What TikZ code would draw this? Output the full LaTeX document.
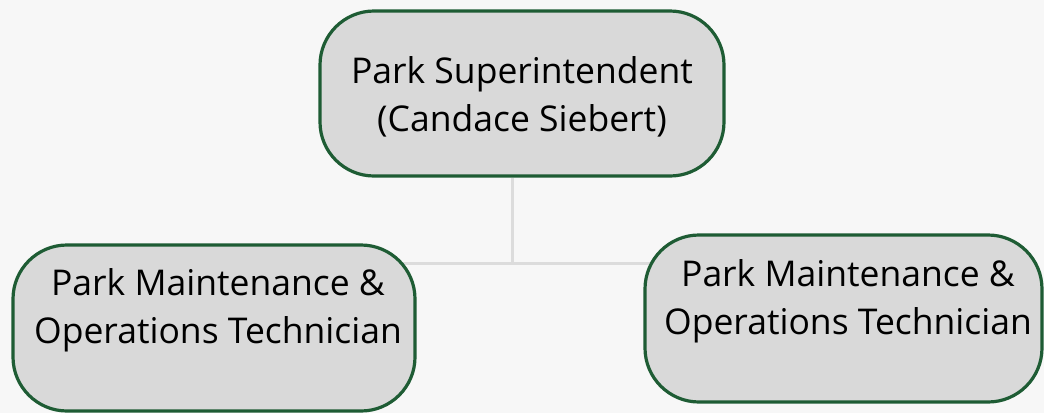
\documentclass[tikz,border=0pt]{standalone}
\usepackage{fontspec}
\setmainfont{Open Sans}
\definecolor{bgc}{HTML}{F7F7F7}
\definecolor{boxfill}{HTML}{D9D9D9}
\definecolor{boxline}{HTML}{1E5C34}
\definecolor{linec}{HTML}{DCDCDC}
\pgfdeclarelayer{bg}
\pgfsetlayers{bg,main}
\begin{document}
\begin{tikzpicture}[x=1pt,y=-1pt,
  box/.style={draw=boxline,fill=boxfill,line width=3.2pt,rounded corners=54pt,inner sep=0pt},
  lbl/.style={font=\fontsize{35.5}{48}\selectfont,align=center,text=black,inner sep=0pt,anchor=north},
  conn/.style={draw=linec,line width=3pt}]
\useasboundingbox (0,0) rectangle (1044,413);
\node[box,minimum width=404pt,minimum height=165pt] (top) at (522,93.5) {};
\node[box,minimum width=402pt,minimum height=166pt] (left) at (214,328) {};
\node[box,minimum width=397pt,minimum height=167pt] (right) at (843.5,318.5) {};
\node[lbl] (ttop) at (522,56) {Park Superintendent\\(Candace Siebert)};
\node[lbl] (tleft) at (218,268.5) {Park Maintenance \&\\Operations Technician};
\node[lbl] (tright) at (848,259) {Park Maintenance \&\\Operations Technician};
\coordinate (hub) at (512,263);
\begin{pgfonlayer}{bg}
\fill[bgc] (0,0) rectangle (1044,413);
\draw[conn] (top.south -| hub) -- (hub);
\draw[conn] (left.center |- hub) -- (right.center |- hub);
\end{pgfonlayer}
\end{tikzpicture}
\end{document}
